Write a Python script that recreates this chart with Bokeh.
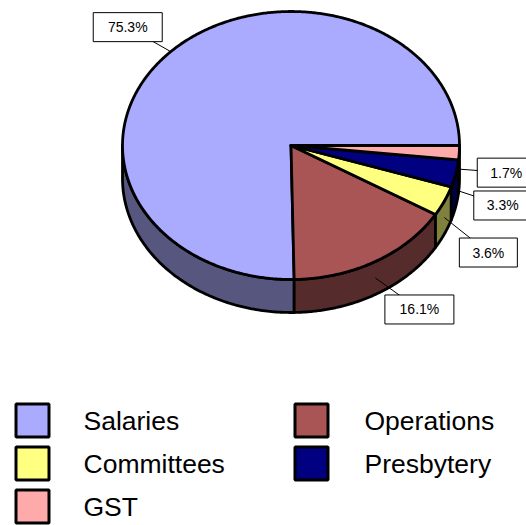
import numpy as np
from bokeh.plotting import figure
from bokeh.models import Range1d
from bokeh.embed import file_html
from bokeh.resources import INLINE
from bokeh.core.properties import value

# ---- data ----
categories = ["Salaries", "Operations", "Committees", "Presbytery", "GST"]
percent = [75.3, 16.1, 3.6, 3.3, 1.7]
top_colors = ["#AAAAFF", "#AA5555", "#FFFF80", "#000080", "#FFAAAA"]
side_colors = ["#56567F", "#552B2B", "#80803F", "#000040", "#805555"]
label_offsets = [(-43, -24.5), (44, 31.5), (44, 35), (47, 15.5), (47, 3.5)]

W, H = 526, 525
FONT = value("Liberation Sans")

p = figure(width=W, height=H, x_range=Range1d(0, W), y_range=Range1d(H, 0),
           output_backend="svg", toolbar_location=None, min_border=0)
p.axis.visible = False
p.grid.visible = False
p.outline_line_color = None
p.background_fill_color = "white"
p.border_fill_color = "white"

cx, cy, rx, ry, depth = 290.5, 145.0, 168.5, 134.0, 33.0

vals = np.array(percent, dtype=float)
cum = np.cumsum(vals) / vals.sum() * 360.0
starts = np.concatenate([[0.0], cum[:-1]])
ends = cum

def pt(theta_deg, dy=0.0):
    t = np.radians(theta_deg)
    return cx + rx * np.cos(t), cy - ry * np.sin(t) + dy

# side walls
sx, sy, sc = [], [], []
for a0, b0, c in zip(starts, ends, side_colors):
    a, b = max(a0, 180.0), min(b0, 360.0)
    if a >= b:
        continue
    t = np.linspace(a, b, 120)
    tx, ty = pt(t)
    bx, by = pt(t[::-1], depth)
    sx.append(list(tx) + list(bx))
    sy.append(list(ty) + list(by))
    sc.append(c)
p.patches(sx, sy, fill_color=sc, line_color="black", line_width=2.8, line_join="round")

# top face wedges
wx, wy = [], []
for a, b in zip(starts, ends):
    n = max(int((b - a) * 2), 8)
    t = np.linspace(a, b, n)
    tx, ty = pt(t)
    wx.append([cx] + list(tx))
    wy.append([cy] + list(ty))
p.patches(wx, wy, fill_color=top_colors, line_color="black", line_width=2.8, line_join="round")

# data labels
labels = [f"{v:.1f}%" for v in percent]
ax, ay, lx, ly, lw = [], [], [], [], []
for a, b, off, lab in zip(starts, ends, label_offsets, labels):
    m = (a + b) / 2.0
    x0, y0 = pt(m)
    if 180.0 < m < 360.0:
        y0 += depth / 2.0
    ax.append(x0); ay.append(y0)
    lx.append(x0 + off[0]); ly.append(y0 + off[1])
    lw.append(14 + 11 * len(lab))
p.segment(ax, ay, lx, ly, line_color="black", line_width=1)
p.rect(lx, ly, width=lw, height=29, fill_color="white", line_color="black", line_width=1)
p.text(lx, ly, text=labels, text_align="center", text_baseline="middle",
       text_font=FONT, text_font_size="14px", text_color="black")

# legend
gx, gy, tx_, ty_ = [], [], [], []
for i, c in enumerate(categories):
    col, row = i % 2, i // 2
    gx.append(32 + col * 279)
    gy.append(420 + row * 43)
    tx_.append(83 + col * 281)
    ty_.append(420 + row * 43)
p.rect(gx, gy, width=33, height=33, fill_color=top_colors, line_color="black", line_width=3)
p.text(tx_, ty_, text=categories, text_align="left", text_baseline="middle",
       text_font=FONT, text_font_size="26.5px", text_color="black")

open("out.html", "w").write(file_html(p, INLINE))
